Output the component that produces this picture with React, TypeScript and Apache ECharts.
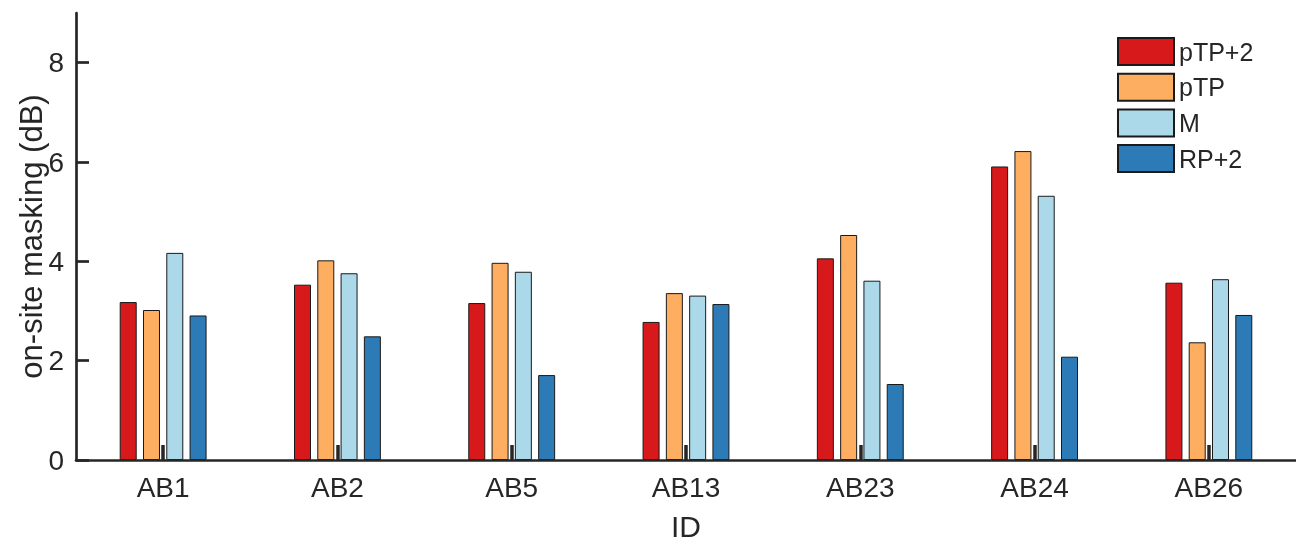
import React, { useEffect, useRef } from "react";
import * as echarts from "echarts";

const categories = ["AB1", "AB2", "AB5", "AB13", "AB23", "AB24", "AB26"];
const seriesNames = ["pTP+2", "pTP", "M", "RP+2"];
const pTP2 = [3.18, 3.53, 3.16, 2.78, 4.06, 5.91, 3.57];
const pTP = [3.02, 4.02, 3.97, 3.36, 4.53, 6.22, 2.37];
const M = [4.17, 3.76, 3.79, 3.31, 3.61, 5.32, 3.64];
const RP2 = [2.91, 2.49, 1.71, 3.14, 1.53, 2.08, 2.92];
const colors = ["#D7191C", "#FDAE61", "#ABD9E9", "#2C7BB6"];
const yTicks = [0, 2, 4, 6, 8];

const FONT = "'Liberation Sans', Arial, Helvetica, sans-serif";
const INK = "#262626";

export default function App() {
  const ref = useRef<HTMLDivElement>(null);
  useEffect(() => {
    if (!ref.current) return;
    const chart = echarts.init(ref.current, null, { renderer: "svg" });
    const data = [pTP2, pTP, M, RP2];
    chart.setOption({
      animation: false,
      textStyle: { fontFamily: FONT, color: INK },
      grid: { left: 76, right: 0, top: 13, bottom: 84, containLabel: false, outerBoundsMode: "none" },
      legend: {
        orient: "vertical",
        left: 1117,
        top: 37,
        padding: 0,
        icon: "rect",
        itemWidth: 56,
        itemHeight: 27,
        itemGap: 6.7,
        textStyle: { fontFamily: FONT, fontSize: 25, color: INK },
        data: seriesNames,
      },
      xAxis: {
        type: "category",
        data: categories,
        name: "ID",
        nameLocation: "middle",
        nameGap: 51,
        nameMoveOverlap: false,
        nameTextStyle: { fontFamily: FONT, fontSize: 30, color: INK },
        axisLine: { lineStyle: { color: INK, width: 2.7 } },
        axisTick: { show: true, inside: true, alignWithLabel: true, length: 15, lineStyle: { color: INK, width: 3.5 } },
        axisLabel: { fontFamily: FONT, fontSize: 28, color: INK, margin: 13 },
        splitLine: { show: false },
        z: 10,
      },
      yAxis: {
        type: "value",
        min: 0,
        max: 9,
        interval: 2,
        name: "on-site masking (dB)",
        nameLocation: "middle",
        nameGap: 29,
        nameMoveOverlap: false,
        nameTextStyle: { fontFamily: FONT, fontSize: 31, color: INK },
        axisLine: { show: true, lineStyle: { color: INK, width: 2.7 } },
        axisTick: { show: true, inside: true, length: 13, customValues: yTicks, lineStyle: { color: INK, width: 2.7 } },
        axisLabel: { fontFamily: FONT, fontSize: 28, color: INK, margin: 12, customValues: yTicks },
        splitLine: { show: false },
      },
      series: seriesNames.map((name, i) => ({
        name,
        type: "bar",
        data: data[i],
        barWidth: 17,
        barGap: "37%",
        itemStyle: { color: colors[i], borderColor: "#1a1a1a", borderWidth: 1 },
      })),
    });
    return () => chart.dispose();
  }, []);
  return <div ref={ref} style={{ position: "fixed", left: 0, top: 0, width: 1296, height: 544 }} />;
}
